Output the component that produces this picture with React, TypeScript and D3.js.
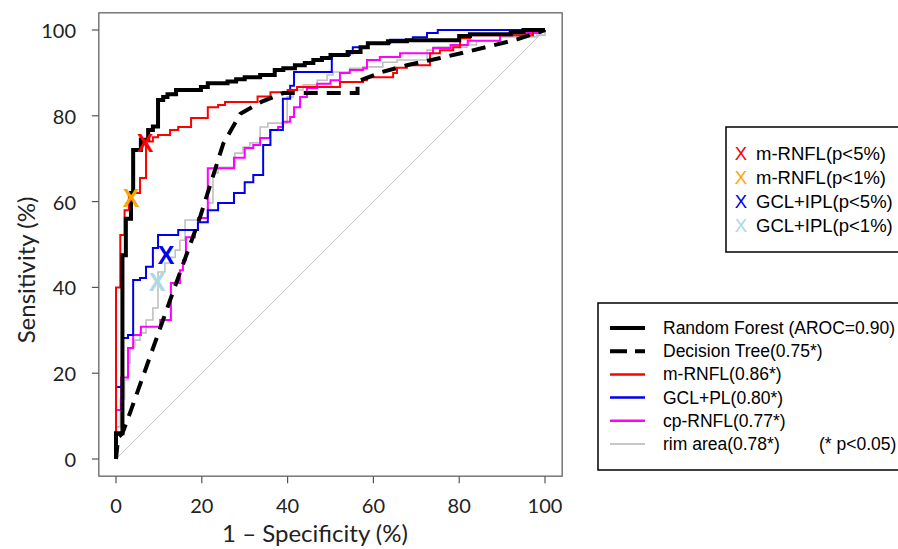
import React from "react";
import * as d3 from "d3";

// ---------- data (percent) ----------
// step curves: at fpr x the curve rises to tpr y
const rfX = [0, 0, 1.5, 2.3, 3.5, 4, 5.8, 7.5, 8.6, 9.8, 11, 12, 14, 19.8, 21.4, 26, 28, 30, 33.6, 37, 39, 41.7, 44, 46, 48, 50, 54, 57, 58.7, 63.4, 67.8, 80, 82.5, 92, 95, 100];
const rfY = [0, 6, 47.5, 56, 62, 72, 74.4, 76.7, 77.5, 83.7, 84.4, 85, 86, 86.7, 87.6, 88, 88.5, 89, 89.5, 90.7, 91.1, 91.8, 92.3, 93, 93.5, 94.2, 94.9, 96, 96.9, 97.4, 97.6, 98.6, 99, 99.5, 100, 100];

const dtX = [0, 0.5, 1.5, 3.5, 12.6, 19.6, 25, 29, 34, 39, 56.3, 56.3, 62, 67.8, 74.8, 80.9, 87, 93.5, 100];
const dtY = [0, 5, 6, 11.4, 37, 56.4, 73.5, 80.5, 83.3, 85.3, 85.3, 88, 90.2, 91.8, 93.3, 94.7, 96.2, 97.8, 100];

const mrnflX = [0, 0, 1, 2, 3, 5.6, 7, 8.6, 9.8, 12.6, 14.5, 17.5, 21.4, 23.8, 25.4, 33, 36, 40, 42.2, 52.2, 57.6, 58.5, 64.6, 65.5, 67.8, 73.2, 75.5, 78.6, 80.2, 82.5, 97.2, 100];
const mrnflY = [0, 40, 52.2, 58, 62, 65.5, 74, 75, 75.5, 76.7, 77.4, 79.5, 82, 82.5, 83.2, 84.5, 85.5, 86, 86.7, 87.9, 88.3, 89, 90, 91.2, 91.8, 94.6, 95.3, 96, 98.1, 98.8, 99.8, 100];

const gclX = [0, 0, 1.4, 2.8, 4, 5.6, 7, 8.6, 9.8, 14.5, 19.1, 21.4, 23.8, 27.5, 30, 32, 34.3, 36, 38.9, 40.6, 41.5, 50.3, 54.5, 55.2, 58.7, 63.9, 69.2, 72.5, 75, 100];
const gclY = [0, 16.8, 28.2, 28.9, 41.7, 42.2, 44.8, 49.2, 52.2, 53.4, 55.2, 58, 59.7, 62, 64.5, 66.2, 73.2, 76.7, 84, 87, 90.2, 94.2, 94.6, 96, 96.9, 97.7, 98.3, 99.3, 100, 100];

const cpX = [0, 0, 1.2, 2.8, 4, 5.8, 10.3, 12.8, 14.9, 15.6, 16.3, 18.4, 19.1, 21.4, 27.5, 30, 32, 33.6, 35.9, 37.8, 38.9, 40.6, 41.5, 42.9, 44.5, 46.9, 50, 52.2, 54.5, 57.6, 58.5, 61.5, 66.2, 73.9, 78, 82, 89.5, 92.5, 98.8, 100];
const cpY = [0, 11.4, 19, 25.9, 28.9, 30.8, 32.4, 41, 44, 46.4, 51.7, 53.4, 56.2, 67.8, 70.2, 72.5, 73.2, 74.8, 76.7, 77.4, 78.6, 79.7, 82, 84.4, 86.5, 87.5, 88.3, 90, 90.7, 91.1, 93, 93.7, 94.6, 95.8, 96.5, 97.5, 98.8, 99.3, 100, 100];

const rimX = [0, 0, 1, 2, 2.8, 3.3, 4, 4.4, 5.6, 7, 8.6, 9.8, 11.4, 12.6, 13.8, 14.9, 16.1, 19.1, 21.4, 22.6, 23.8, 27.7, 29.6, 31.2, 33.6, 35.4, 39.9, 41.3, 43.6, 46.9, 49.2, 50.6, 54.5, 57.6, 62.2, 65.5, 72.5, 74, 81.8, 84, 89.5, 98.1, 100];
const rimY = [0, 7.5, 14, 18.4, 22.4, 25.9, 26.1, 27.7, 29.4, 32.4, 35.2, 43.6, 45.7, 47, 48.7, 51, 55.7, 56.2, 59.7, 66.7, 68, 71.3, 72.7, 73.7, 77.4, 78.3, 84.4, 86, 87.2, 88.3, 89.5, 90.2, 91.1, 91.4, 92.5, 93, 95.3, 96, 96.5, 97.5, 98.4, 98.8, 100];

// cut-off markers
const markerLabels = ["m-RNFL(p<5%)", "m-RNFL(p<1%)", "GCL+IPL(p<5%)", "GCL+IPL(p<1%)"];
const markerColors = ["#ff0000", "#ffa500", "#0000ee", "#add8e6"];
const markerX = [6.8, 3.5, 11.7, 9.6];
const markerY = [73.7, 60.8, 47.6, 41.3];

const seriesLabels = [
  "Random Forest (AROC=0.90)",
  "Decision Tree(0.75*)",
  "m-RNFL(0.86*)",
  "GCL+PL(0.80*)",
  "cp-RNFL(0.77*)",
  "rim area(0.78*)",
];
const ticks = [0, 20, 40, 60, 80, 100];

export default function App() {
  const x = d3.scaleLinear().domain([0, 100]).range([116, 545]);
  const y = d3.scaleLinear().domain([0, 100]).range([459, 30]);
  const left = x(-4), right = x(104), top = y(104), bottom = y(-4);

  const step = d3.line<[number, number]>().x((d) => x(d[0])).y((d) => y(d[1])).curve(d3.curveStepAfter);
  const lin = d3.line<[number, number]>().x((d) => x(d[0])).y((d) => y(d[1]));
  const zip = (a: number[], b: number[]) => a.map((v, i) => [v, b[i]] as [number, number]);

  const axisFont = "Lato, 'Open Sans', sans-serif";
  const legFont = "'Liberation Sans', Arial, sans-serif";

  const series = [
    { d: step(zip(rimX, rimY)), c: "#c0c0c0", w: 1.6, dash: undefined },
    { d: step(zip(cpX, cpY)), c: "#ff00ff", w: 2, dash: undefined },
    { d: step(zip(gclX, gclY)), c: "#0000ee", w: 2, dash: undefined },
    { d: step(zip(mrnflX, mrnflY)), c: "#ff0000", w: 2, dash: undefined },
    { d: lin(zip(dtX, dtY)), c: "#000", w: 4, dash: "14,9" },
    { d: step(zip(rfX, rfY)), c: "#000", w: 4, dash: undefined },
  ];

  const legStyles = [
    { c: "#000", w: 4, dash: undefined },
    { c: "#000", w: 4, dash: "17,8" },
    { c: "#ff0000", w: 2.5, dash: undefined },
    { c: "#0000ee", w: 2.5, dash: undefined },
    { c: "#ff00ff", w: 2.5, dash: undefined },
    { c: "#c8c8c8", w: 2, dash: undefined },
  ];

  return (
    <svg width={898} height={549} style={{ position: "absolute", left: 0, top: 0, background: "#fff" }}>
      <rect x={0} y={0} width={898} height={549} fill="#fff" />
      {/* diagonal */}
      <line x1={x(0)} y1={y(0)} x2={x(100)} y2={y(100)} stroke="#c8c8c8" strokeWidth={1} />
      {series.map((s, i) => (
        <path key={i} d={s.d || ""} fill="none" stroke={s.c} strokeWidth={s.w} strokeDasharray={s.dash} strokeLinejoin="miter" />
      ))}
      {markerX.map((mx, i) => (
        <text key={i} x={x(mx)} y={y(markerY[i])} fill={markerColors[i]} fontFamily={legFont} fontWeight="bold" fontSize={25} textAnchor="middle" dominantBaseline="central">X</text>
      ))}
      {/* frame */}
      <rect x={left} y={top} width={right - left} height={bottom - top} fill="none" stroke="#555" strokeWidth={1.2} />
      {/* x axis */}
      {ticks.map((t) => (
        <g key={"x" + t}>
          <line x1={x(t)} x2={x(t)} y1={bottom} y2={bottom + 7} stroke="#555" strokeWidth={1.2} />
          <text x={x(t)} y={505} fontFamily={axisFont} fontSize={20} textAnchor="middle" dominantBaseline="central" fill="#222">{t}</text>
        </g>
      ))}
      {ticks.map((t) => (
        <g key={"y" + t}>
          <line x1={left - 7} x2={left} y1={y(t)} y2={y(t)} stroke="#555" strokeWidth={1.2} />
          <text x={76} y={y(t)} fontFamily={axisFont} fontSize={20} textAnchor="end" dominantBaseline="central" fill="#222">{t}</text>
        </g>
      ))}
      <text x={315} y={532} fontFamily={axisFont} fontSize={24} textAnchor="middle" dominantBaseline="central" fill="#222">1 – Specificity  (%)</text>
      <text transform="translate(25,270) rotate(-90)" fontFamily={axisFont} fontSize={24} textAnchor="middle" dominantBaseline="central" fill="#222">Sensitivity  (%)</text>

      {/* legend 1 */}
      <rect x={726} y={127} width={200} height={125} fill="#fff" stroke="#000" strokeWidth={1.5} />
      {markerLabels.map((l, i) => (
        <g key={l}>
          <text x={741} y={153 + 24 * i} fill={markerColors[i]} fontFamily={legFont} fontSize={18.5} textAnchor="middle" dominantBaseline="central">X</text>
          <text x={756} y={153 + 24 * i} fill="#000" fontFamily={legFont} fontSize={18.5} dominantBaseline="central">{l}</text>
        </g>
      ))}

      {/* legend 2 */}
      <rect x={598} y={303} width={320} height={167} fill="#fff" stroke="#000" strokeWidth={1.5} />
      {seriesLabels.map((l, i) => (
        <g key={l}>
          <line x1={610} x2={645} y1={328 + 23.2 * i} y2={328 + 23.2 * i} stroke={legStyles[i].c} strokeWidth={legStyles[i].w} strokeDasharray={legStyles[i].dash} />
          <text x={663} y={328 + 23.2 * i} fill="#000" fontFamily={legFont} fontSize={17.5} dominantBaseline="central">{l}</text>
        </g>
      ))}
      <text x={819} y={328 + 23.2 * 5} fill="#000" fontFamily={legFont} fontSize={17.5} dominantBaseline="central">(* p&lt;0.05)</text>
    </svg>
  );
}
